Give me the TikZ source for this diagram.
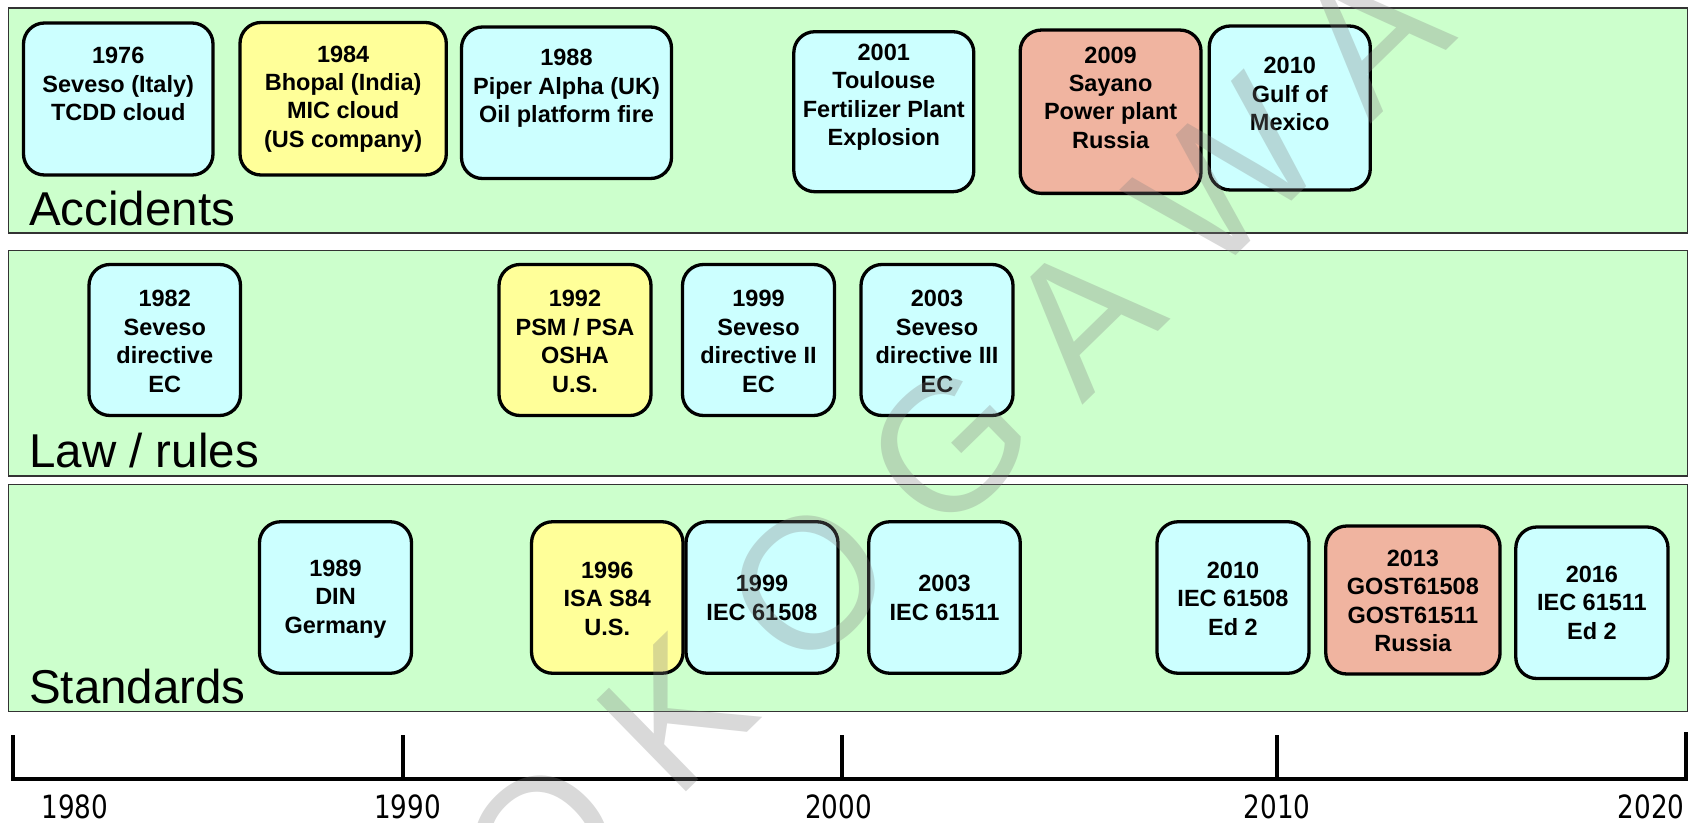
\documentclass[tikz,border=0pt]{standalone}
\usepackage{fontspec}
\setmainfont{Liberation Sans}
\newfontfamily\yearfont[FakeStretch=0.82]{DejaVu Sans}
\definecolor{panelgreen}{HTML}{CCFFCC}
\definecolor{boxcyan}{HTML}{CCFFFF}
\definecolor{boxyellow}{HTML}{FFFF99}
\definecolor{boxsalmon}{HTML}{F0B4A0}
% #1 style, #2 name, #3 cx, #4 cy, #5 w, #6 h, #7 text y, #8 text
\newcommand\evnode[8]{%
  \node[#1,minimum width=#5pt,minimum height=#6pt] (#2) at (#3,#4) {};
  \node[evtext] (#2t) at (#3,#7) {#8};}
\begin{document}
\begin{tikzpicture}[x=1pt,y=-1pt,
  panel/.style={draw=black!80,line width=1.5pt,fill=panelgreen},
  evbox/.style={draw=black,line width=3.3pt,rounded corners=21pt,inner sep=0pt},
  cyanbox/.style={evbox,fill=boxcyan},
  yellowbox/.style={evbox,fill=boxyellow},
  salmonbox/.style={evbox,fill=boxsalmon},
  evtext/.style={font=\fontsize{23.5}{28.4}\selectfont\bfseries,align=center,inner sep=0pt},
  paneltitle/.style={font=\fontsize{47.5}{57}\selectfont,anchor=base west,inner sep=0pt},
  axisline/.style={line width=4pt},
  yearlabel/.style={font=\yearfont\fontsize{32}{38}\selectfont,anchor=base,inner sep=0pt},
  watermark/.style={font=\fontsize{186}{200}\selectfont,text=black!50,opacity=0.3,inner sep=0pt}
]
\useasboundingbox (0,0) rectangle (1694,822);

% panels
\node[panel,minimum width=1679.3pt,minimum height=225.2pt,inner sep=0pt] (pAcc) at (847.95,120.4) {};
\node[panel,minimum width=1679.3pt,minimum height=225.3pt,inner sep=0pt] (pLaw) at (847.95,363.35) {};
\node[panel,minimum width=1679.3pt,minimum height=226.8pt,inner sep=0pt] (pStd) at (847.95,598.1) {};

\node[paneltitle] (tAcc) at (29,225) {Accidents};
\node[paneltitle] (tLaw) at (29,467.7) {Law / rules};
\node[paneltitle] (tStd) at (29,703) {Standards};

% accidents
\evnode{cyanbox}{a1}{118.25}{99}{189.5}{152}{84.3}{1976\\Seveso (Italy)\\TCDD cloud}
\evnode{yellowbox}{a2}{343.15}{98.75}{206.3}{152.5}{98.9}{1984\\Bhopal (India)\\MIC cloud\\(US company)}
\evnode{cyanbox}{a3}{566.5}{102.75}{210}{151.5}{88.6}{1988\\Piper Alpha (UK)\\Oil platform fire}
\evnode{cyanbox}{a4}{883.8}{111.7}{180}{160}{97.4}{2001\\Toulouse\\Fertilizer Plant\\Explosion}
\evnode{salmonbox}{a5}{1110.6}{111.7}{180.8}{163.3}{97.6}{2009\\Sayano\\Power plant\\Russia}
\evnode{cyanbox}{a6}{1289.75}{108}{161}{164}{94.2}{2010\\Gulf of\\Mexico}

% law / rules
\evnode{cyanbox}{l1}{164.75}{340}{151.5}{151}{341.4}{1982\\Seveso\\directive\\EC}
\evnode{yellowbox}{l2}{575}{340}{152}{151}{341.4}{1992\\PSM / PSA\\OSHA\\U.S.}
\evnode{cyanbox}{l3}{758.5}{340}{152}{151}{341.4}{1999\\Seveso\\directive II\\EC}
\evnode{cyanbox}{l4}{937}{340}{152}{151}{341.4}{2003\\Seveso\\directive III\\EC}

% standards
\evnode{cyanbox}{s1}{335.5}{597.5}{152}{151.5}{598.9}{1989\\DIN\\Germany}
\evnode{yellowbox}{s2}{607.3}{597.5}{151.5}{151.5}{598.9}{1996\\ISA S84\\U.S.}
\evnode{cyanbox}{s3}{762}{597.5}{152}{151.5}{598}{1999\\IEC 61508}
\evnode{cyanbox}{s4}{944.5}{597.5}{151.5}{151.5}{598}{2003\\IEC 61511}
\evnode{cyanbox}{s5}{1233}{597.5}{152}{151.5}{598.9}{2010\\IEC 61508\\Ed 2}
\evnode{salmonbox}{s6}{1412.9}{600}{174.3}{148}{600.8}{2013\\GOST61508\\GOST61511\\Russia}
\evnode{cyanbox}{s7}{1591.9}{602.75}{152.2}{151.5}{602.9}{2016\\IEC 61511\\Ed 2}

% time axis
\coordinate (k1980) at (13.3,779);   \coordinate (k1980top) at (13.3,735);
\coordinate (k1990) at (403.3,779);  \coordinate (k1990top) at (403.3,735);
\coordinate (k2000) at (841.6,779);  \coordinate (k2000top) at (841.6,735);
\coordinate (k2010) at (1277,779);   \coordinate (k2010top) at (1277,735);
\coordinate (k2020) at (1685.5,779); \coordinate (k2020top) at (1685.5,732);
\draw[axisline] (k1980top) -- (k1980) -- (k2020) -- (k2020top);
\draw[axisline] (k1990) -- (k1990top);
\draw[axisline] (k2000) -- (k2000top);
\draw[axisline] (k2010) -- (k2010top);

\node[yearlabel] (y1980) at (75,818.5) {1980};
\node[yearlabel] (y1990) at (407.5,818.5) {1990};
\node[yearlabel] (y2000) at (838.6,818.5) {2000};
\node[yearlabel] (y2010) at (1277,818.5) {2010};
\node[yearlabel] (y2020) at (1651,818.5) {2020};

% watermark
\begin{scope}
\clip (0,0) rectangle (1694,822);
\node[watermark,rotate=44.3] (wm) at (889.8,504) {Y O K O G A W A};
\end{scope}
\end{tikzpicture}
\end{document}
